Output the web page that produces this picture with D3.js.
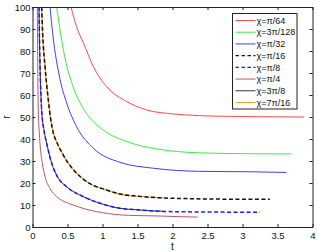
<!DOCTYPE html>
<html>
<head>
<meta charset="utf-8">
<script src="https://cdn.jsdelivr.net/npm/d3@7"></script>
<style>
  body { margin: 0; background: #fff; }
  svg { display: block; font-family: "Liberation Sans", Arial, sans-serif; }
  .axis text { font-size: 9.5px; fill: #111; }
  .axis path, .axis line { stroke: #222; }
</style>
</head>
<body>
<svg id="chart" width="317" height="252"></svg>
<script>
// values, t (x) and r (y) per curve
const tPi64 = [0.55, 0.63, 0.73, 0.87, 1.06, 1.35, 1.63, 2.01, 2.39, 2.8, 3.3, 3.88];
const rPi64 = [100, 91, 83.5, 72.9, 63.8, 57, 53.2, 51.4, 50.6, 50.3, 50.1, 50];

const t3Pi128 = [0.345, 0.39, 0.46, 0.58, 0.77, 1.01, 1.35, 1.82, 2.39, 3.11, 3.7];
const r3Pi128 = [100, 90.3, 77.4, 63.8, 51.7, 44.1, 38.8, 35.3, 33.7, 33.3, 33.2];

const tPi32 = [0.25, 0.29, 0.39, 0.49, 0.63, 0.87, 1.25, 1.73, 2.39, 3.11, 3.63];
const rPi32 = [100, 87.5, 67.6, 56.2, 45.6, 35.8, 29.4, 26.7, 25.3, 25.1, 24.8];

const tPi16 = [0.131, 0.145, 0.179, 0.226, 0.26, 0.3, 0.35, 0.417, 0.5, 0.6, 0.774, 1.06, 1.25, 1.5, 1.87, 2.2, 2.6, 3.0, 3.39];
const rPi16 = [100, 88, 72.9, 57.7, 49, 42.5, 38.3, 34, 29.5, 25.5, 20.6, 16.8, 15, 14, 13.2, 12.9, 12.7, 12.6, 12.6];

const tPi8 = [0.093, 0.1, 0.11, 0.12, 0.131, 0.164, 0.203, 0.26, 0.355, 0.489, 0.726, 0.964, 1.25, 1.5, 1.87, 2.2, 2.6, 3.0, 3.25];
const rPi8 = [100, 85, 70, 60, 53, 44, 38, 30.5, 22.9, 18.3, 13.8, 10.8, 8.5, 7.8, 7.1, 6.9, 6.8, 6.7, 6.7];

const tPi4 = [0.069, 0.075, 0.083, 0.095, 0.107, 0.14, 0.179, 0.25, 0.345, 0.45, 0.583, 0.75, 0.917, 1.25, 1.5, 1.82, 2.1, 2.36];
const rPi4 = [100, 72, 53.2, 44, 38, 29, 22.9, 17.5, 13.8, 11.6, 10, 8.2, 7, 5.5, 5.2, 5, 4.7, 4.5];

const t3Pi8 = [0.093, 0.1, 0.11, 0.12, 0.131, 0.164, 0.203, 0.26, 0.355, 0.489, 0.726, 0.964, 1.25, 1.5, 1.87];
const r3Pi8 = [100, 85, 70, 60, 53, 44, 38, 30.5, 22.9, 18.3, 13.8, 10.8, 8.5, 7.8, 7.1];

const t7Pi16 = [0.131, 0.145, 0.179, 0.226, 0.26, 0.3, 0.35, 0.417, 0.5, 0.6, 0.774, 1.06, 1.25, 1.5, 1.87];
const r7Pi16 = [100, 88, 72.9, 57.7, 49, 42.5, 38.3, 34, 29.5, 25.5, 20.6, 16.8, 15, 14, 13.2];

const legendLabels = ["χ=π/64", "χ=3π/128", "χ=π/32", "χ=π/16", "χ=π/8", "χ=π/4", "χ=3π/8", "χ=7π/16"];
const xTicks = [0, 0.5, 1, 1.5, 2, 2.5, 3, 3.5, 4];
const yTicks = [0, 10, 20, 30, 40, 50, 60, 70, 80, 90, 100];

const toPoints = (ts, rs) => ts.map((t, i) => ({ t, r: rs[i] }));

// legend order, with styling
const series = [
  { label: legendLabels[0], points: toPoints(tPi64, rPi64), color: "#ff4646", dash: null, width: 1 },
  { label: legendLabels[1], points: toPoints(t3Pi128, r3Pi128), color: "#3aee3a", dash: null, width: 1 },
  { label: legendLabels[2], points: toPoints(tPi32, rPi32), color: "#3c3cff", dash: null, width: 1 },
  { label: legendLabels[3], points: toPoints(tPi16, rPi16), color: "#111", dash: "4,2.5", width: 1.5 },
  { label: legendLabels[4], points: toPoints(tPi8, rPi8), color: "#1a1aff", dash: "4,2.5", width: 1.5 },
  { label: legendLabels[5], points: toPoints(tPi4, rPi4), color: "#c4506c", dash: null, width: 1 },
  { label: legendLabels[6], points: toPoints(t3Pi8, r3Pi8), color: "#333", dash: null, width: 1 },
  { label: legendLabels[7], points: toPoints(t7Pi16, r7Pi16), color: "#f0a030", dash: null, width: 1.3 },
];
// draw solids under the dashed curves they overlap
const drawOrder = [0, 1, 2, 7, 3, 6, 4, 5];

const svg = d3.select("#chart");
const margin = { top: 7, right: 4.5, bottom: 25, left: 32.5 };
const width = 317 - margin.left - margin.right;
const height = 252 - margin.top - margin.bottom;

const xScale = d3.scaleLinear().domain([0, 4]).range([margin.left, margin.left + width]);
const yScale = d3.scaleLinear().domain([0, 100]).range([margin.top + height, margin.top]);

svg.append("defs").append("clipPath").attr("id", "plot-clip")
  .append("rect")
  .attr("x", margin.left).attr("y", margin.top)
  .attr("width", width).attr("height", height);

//Curves
const line = d3.line()
  .x((d) => xScale(d.t))
  .y((d) => yScale(d.r))
  .curve(d3.curveMonotoneX);

const curves = svg.append("g").attr("clip-path", "url(#plot-clip)");
drawOrder.forEach((i) => {
  const s = series[i];
  curves.append("path")
    .datum(s.points)
    .attr("d", line)
    .attr("fill", "none")
    .attr("stroke", s.color)
    .attr("stroke-width", s.width)
    .attr("stroke-dasharray", s.dash);
});

//Axes, ticks inward on all four sides
svg.append("g").attr("class", "axis")
  .attr("transform", `translate(0,${margin.top + height})`)
  .call(d3.axisBottom(xScale).tickValues(xTicks).tickSizeInner(-3).tickSizeOuter(0).tickPadding(5).tickFormat(d3.format("")));
svg.append("g").attr("class", "axis")
  .attr("transform", `translate(${margin.left},0)`)
  .call(d3.axisLeft(yScale).tickValues(yTicks).tickSizeInner(-3).tickSizeOuter(0).tickPadding(2));
svg.append("g").attr("class", "axis")
  .attr("transform", `translate(0,${margin.top})`)
  .call(d3.axisTop(xScale).tickValues(xTicks).tickSizeInner(-3).tickSizeOuter(0).tickFormat(""));
svg.append("g").attr("class", "axis")
  .attr("transform", `translate(${margin.left + width},0)`)
  .call(d3.axisRight(yScale).tickValues(yTicks).tickSizeInner(-3).tickSizeOuter(0).tickFormat(""));

//Axis labels
svg.append("text")
  .attr("x", margin.left + width / 2)
  .attr("y", 250)
  .attr("text-anchor", "middle")
  .attr("font-size", 10)
  .attr("fill", "#111")
  .text("t");
svg.append("text")
  .attr("transform", `translate(10,${margin.top + height / 2}) rotate(-90)`)
  .attr("text-anchor", "middle")
  .attr("font-size", 10)
  .attr("fill", "#111")
  .text("r");

//Legend
const legend = svg.append("g").attr("transform", "translate(232.5,13.5)");
legend.append("rect")
  .attr("width", 64.5).attr("height", 95.5)
  .attr("fill", "#fff").attr("stroke", "#222").attr("stroke-width", 1);
const rowY = d3.scalePoint().domain(legendLabels).range([7, 89]);
series.forEach((s) => {
  const y = rowY(s.label);
  legend.append("line")
    .attr("x1", 3).attr("x2", 23).attr("y1", y).attr("y2", y)
    .attr("stroke", s.color)
    .attr("stroke-width", s.dash ? 1.3 : 1)
    .attr("stroke-dasharray", s.dash ? "3.5,2.5" : null);
  legend.append("text")
    .attr("x", 24).attr("y", y)
    .attr("dy", "0.35em")
    .attr("font-size", 9)
    .attr("fill", "#111")
    .text(s.label);
});
</script>
</body>
</html>
